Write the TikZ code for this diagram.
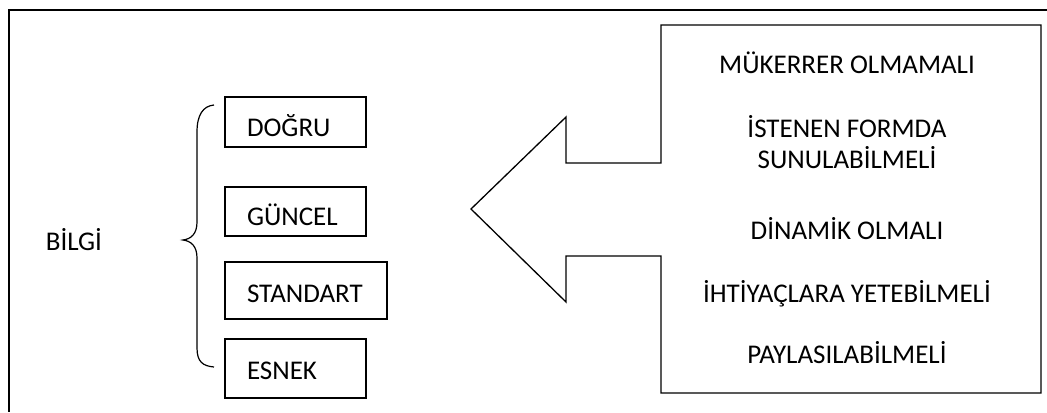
\documentclass[tikz,border=0pt]{standalone}
\usepackage{fontspec}
\setmainfont{Carlito}
\begin{document}
\begin{tikzpicture}[x=0.5pt,y=-0.5pt,
  edge/.style={line width=0.65pt,line join=miter},
  txt/.style={font=\fontsize{13.5}{16}\selectfont,inner sep=0pt},
  item/.style={draw,edge,font=\fontsize{13.5}{16}\selectfont,
    inner xsep=0pt,inner ysep=0pt,align=left,text depth=0pt}]
\useasboundingbox (0,0) rectangle (1047,412);

% open outer frame
\draw[edge] (1047,10) -- (9,10) -- (9,412);

% left: the term and its braced properties
\node[txt] (bilgi) at (74,240) {BİLGİ};
\draw[edge,line width=0.6pt] (214,105) .. controls (203,106) and (197,115) .. (197,132)
  -- (197,222) .. controls (197,234) and (191,239) .. (183,240)
  .. controls (191,241) and (197,246) .. (197,258)
  -- (197,348) .. controls (197,362) and (203,366) .. (214,367);

\node[item,text width=70.5pt,minimum height=25pt,text height=14pt] (dogru) at (295.5,122) {\hspace*{11pt}DOĞRU};
\node[item,text width=70.5pt,minimum height=24.5pt,text height=13.5pt] (guncel) at (295.5,211.5) {\hspace*{11pt}GÜNCEL};
\node[item,text width=81pt,minimum height=28.5pt,text height=11.5pt] (standart) at (306,290.5) {\hspace*{11pt}STANDART};
\node[item,text width=70.5pt,minimum height=29.5pt,text height=10.5pt] (esnek) at (295.5,368.5) {\hspace*{11pt}ESNEK};

% right: callout box with a left-pointing arrow
\draw[edge] (661,163) -- (566,163) -- (566,117) -- (471,209) -- (566,302)
  -- (566,256) -- (661,256) -- (661,393) -- (1041,393) -- (1041,25)
  -- (661,25) -- cycle;

\node[txt,anchor=base] (r1) at (847,73) {MÜKERRER OLMAMALI};
\node[txt,anchor=base] (r2) at (847,137) {İSTENEN FORMDA};
\node[txt,anchor=base] (r3) at (847,168) {SUNULABİLMELİ};
\node[txt,anchor=base] (r4) at (847,239) {DİNAMİK OLMALI};
\node[txt,anchor=base] (r5) at (847,302) {İHTİYAÇLARA YETEBİLMELİ};
\node[txt,anchor=base] (r6) at (847,363) {PAYLASILABİLMELİ};
\end{tikzpicture}
\end{document}
